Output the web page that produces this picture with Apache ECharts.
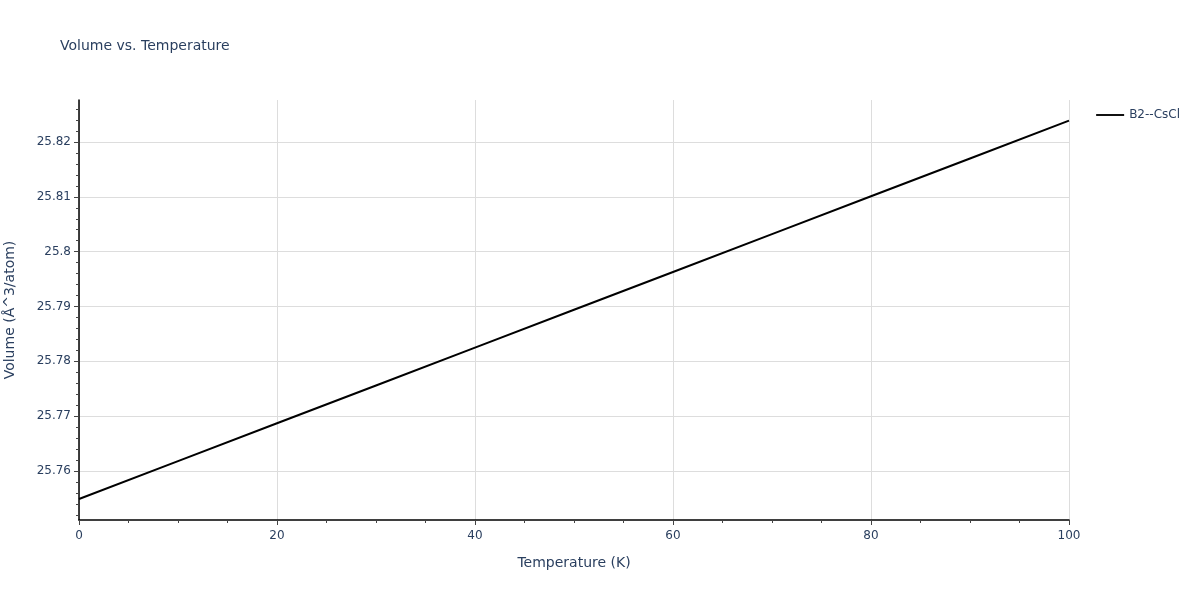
<!DOCTYPE html>
<html><head><meta charset="utf-8">
<script src="https://cdn.jsdelivr.net/npm/echarts@6/dist/echarts.min.js"></script>
<style>html,body{margin:0;padding:0;background:#fff}#c{width:1200px;height:600px}</style>
</head><body><div id="c"></div>
<script>
const seriesName = 'B2--CsCl';
const temperatures = [0, 10, 20, 30, 40, 50, 60, 70, 80, 90, 100];
const volumes = [25.7549, 25.7618, 25.7687, 25.7756, 25.7825, 25.7894, 25.7963, 25.8032, 25.8101, 25.8170, 25.8239];
const yTicks = [25.76, 25.77, 25.78, 25.79, 25.8, 25.81, 25.82];
const yMinorTicks = [25.752, 25.754, 25.756, 25.758, 25.762, 25.764, 25.766, 25.768, 25.772, 25.774, 25.776, 25.778, 25.782, 25.784, 25.786, 25.788, 25.792, 25.794, 25.796, 25.798, 25.802, 25.804, 25.806, 25.808, 25.812, 25.814, 25.816, 25.818, 25.822, 25.824, 25.826];
const yMin = 25.75106, yMax = 25.82766;

const txt = '#2a3f5f';
const font = 'DejaVu Sans, Verdana, sans-serif';
const chart = echarts.init(document.getElementById('c'));
chart.setOption({
  animation: false,
  backgroundColor: '#fff',
  title: {text: 'Volume vs. Temperature', left: 60, top: 39, padding: 0, textStyle: {color: txt, fontSize: 14, fontWeight: 'normal', fontFamily: font}},
  legend: {right: 20, top: 109, padding: 0, itemWidth: 28, itemHeight: 2, itemGap: 6, icon: 'rect',
    textStyle: {color: txt, fontSize: 12, fontFamily: font},
    data: [{name: seriesName, icon: 'path://M0,0 L30,0 L30,2 L0,2 Z'}]},
  grid: {left: 79, right: 131, top: 100, bottom: 80, outerBoundsMode: 'none', containLabel: false},
  xAxis: {type: 'value', min: 0, max: 100, interval: 20,
    name: 'Temperature (K)', nameLocation: 'middle', nameGap: 36,
    nameTextStyle: {color: txt, fontSize: 14, fontFamily: font},
    axisLine: {show: true, onZero: false, lineStyle: {color: '#000', width: 1.5}},
    axisTick: {show: true, length: 5, lineStyle: {color: '#444'}},
    minorTick: {show: true, splitNumber: 4, length: 3, lineStyle: {color: '#444'}},
    axisLabel: {color: txt, fontSize: 12, fontFamily: font, margin: 10},
    splitLine: {show: true, lineStyle: {color: '#dddddd', width: 1}}},
  yAxis: [{type: 'value', min: yMin, max: yMax,
    name: 'Volume (Å^3/atom)', nameLocation: 'middle', nameGap: 62, nameRotate: 90,
    nameTextStyle: {color: txt, fontSize: 14, fontFamily: font},
    axisLine: {show: true, onZero: false, lineStyle: {color: '#000', width: 1.5}},
    axisTick: {show: true, length: 5, customValues: yTicks, lineStyle: {color: '#444'}},
    axisLabel: {color: txt, fontSize: 12, fontFamily: font, margin: 8, customValues: yTicks,
      formatter: v => String(parseFloat(v.toFixed(4)))},
    splitLine: {show: true, lineStyle: {color: '#dddddd', width: 1}}},
   {type: 'value', min: yMin, max: yMax, position: 'left',
    axisLine: {show: false}, splitLine: {show: false},
    axisTick: {show: true, length: 3, customValues: yMinorTicks, lineStyle: {color: '#444'}},
    axisLabel: {show: false, customValues: yMinorTicks}}],
  series: [{name: seriesName, type: 'line', showSymbol: false, symbol: 'none',
    data: temperatures.map((t, i) => [t, volumes[i]]),
    lineStyle: {color: '#000', width: 2}, itemStyle: {color: '#000'}}]
});
</script></body></html>
